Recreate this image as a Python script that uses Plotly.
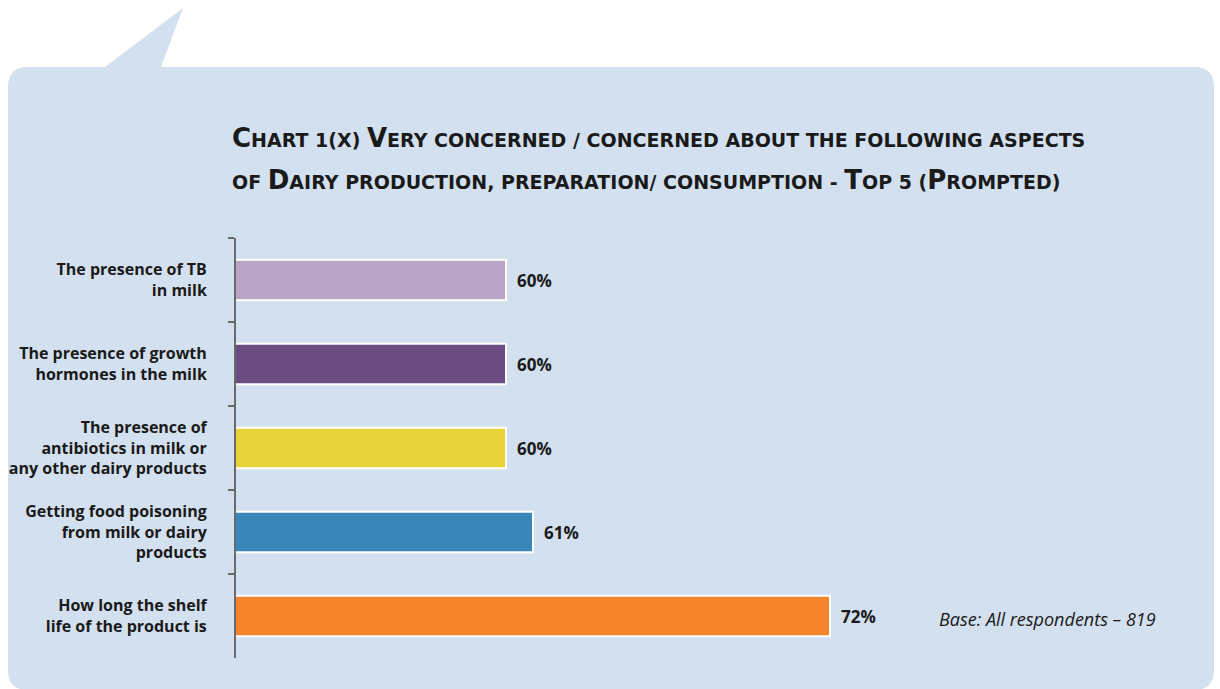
import plotly.graph_objects as go

W, H = 1220, 689

# Survey results: share very concerned / concerned (%)
aspects = [
    "The presence of TB<br>in milk",
    "The presence of growth<br>hormones in the milk",
    "The presence of<br>antibiotics in milk or<br>any other dairy products",
    "Getting food poisoning<br>from milk or dairy<br>products",
    "How long the shelf<br>life of the product is",
]
shares = [60, 60, 60, 61, 72]
bar_colors = ["#bba5c7", "#6a4c81", "#e8d23a", "#3a86b8", "#f4852a"]
value_labels = [f"{v}%" for v in shares]

BG = "#d3e0ef"
TEXT = "#1a1a1a"


def px(x):
    return x / W


def py(y):
    return 1 - y / H


fig = go.Figure()
fig.add_trace(go.Bar(
    x=shares,
    y=aspects,
    orientation="h",
    marker=dict(color=bar_colors, line=dict(color="white", width=2)),
    hoverinfo="x+y",
    showlegend=False,
))

# value labels just right of each bar end
for a, v, t in zip(aspects, shares, value_labels):
    fig.add_annotation(
        x=v, y=a, xref="x", yref="y", text=f"<b>{t}</b>",
        showarrow=False, xanchor="left", xshift=9,
        font=dict(family="Open Sans", size=17, color=TEXT),
    )

# speech-bubble panel behind the chart
r = 20
L, R, T, B = 8, 1214, 67, 690
pts = [
    f"M {px(L)},{py(T + r)}",
    f"Q {px(L)},{py(T)} {px(L + r)},{py(T)}",
    f"L {px(105)},{py(T)}",
    f"L {px(183)},{py(8)}",
    f"L {px(161)},{py(T)}",
    f"L {px(R - r)},{py(T)}",
    f"Q {px(R)},{py(T)} {px(R)},{py(T + r)}",
    f"L {px(R)},{py(B - r)}",
    f"Q {px(R)},{py(B)} {px(R - r)},{py(B)}",
    f"L {px(L + r)},{py(B)}",
    f"Q {px(L)},{py(B)} {px(L)},{py(B - r)}",
    "Z",
]
fig.add_shape(type="path", path=" ".join(pts), xref="paper", yref="paper",
              fillcolor=BG, line=dict(width=0), layer="below")


def small_caps(s, big=26, small=19):
    out = []
    for ch in s:
        if ch.isupper():
            out.append(f"<span style='font-size:{big}px'>{ch}</span>")
        else:
            out.append(f"<span style='font-size:{small}px'>{ch.upper()}</span>")
    return "<b>" + "".join(out) + "</b>"


title_lines = [
    "Chart 1(x) Very concerned / concerned about the following aspects",
    "of Dairy production, preparation/ consumption - Top 5 (Prompted)",
]
for line, yc in zip(title_lines, [138, 180]):
    fig.add_annotation(
        x=px(230), y=py(yc), xref="paper", yref="paper",
        text=small_caps(line), showarrow=False, xanchor="left", yanchor="middle",
        font=dict(family="DejaVu Sans", size=19, color=TEXT),
    )

fig.add_annotation(
    x=px(937), y=py(619), xref="paper", yref="paper",
    text="<i>Base: All respondents – 819</i>", showarrow=False,
    xanchor="left", yanchor="middle",
    font=dict(family="Open Sans", size=18, color=TEXT),
)

fig.update_layout(
    width=W, height=H,
    margin=dict(l=0, r=0, t=0, b=0),
    paper_bgcolor="white",
    plot_bgcolor="rgba(0,0,0,0)",
    bargap=0.52,
    xaxis=dict(visible=False, range=[50, 80], domain=[px(236), px(1046)]),
    yaxis=dict(
        domain=[py(658), py(238)],
        autorange="reversed",
        showline=True, linecolor="#6a6a6a", linewidth=2,
        ticks="outside", tickson="boundaries", ticklen=6,
        tickcolor="#6a6a6a", tickwidth=2,
        ticklabelstandoff=24,
        tickfont=dict(family="Open Sans", size=16, color=TEXT, weight="bold"),
        showgrid=False, zeroline=False,
    ),
)

fig.write_html("out.html")
